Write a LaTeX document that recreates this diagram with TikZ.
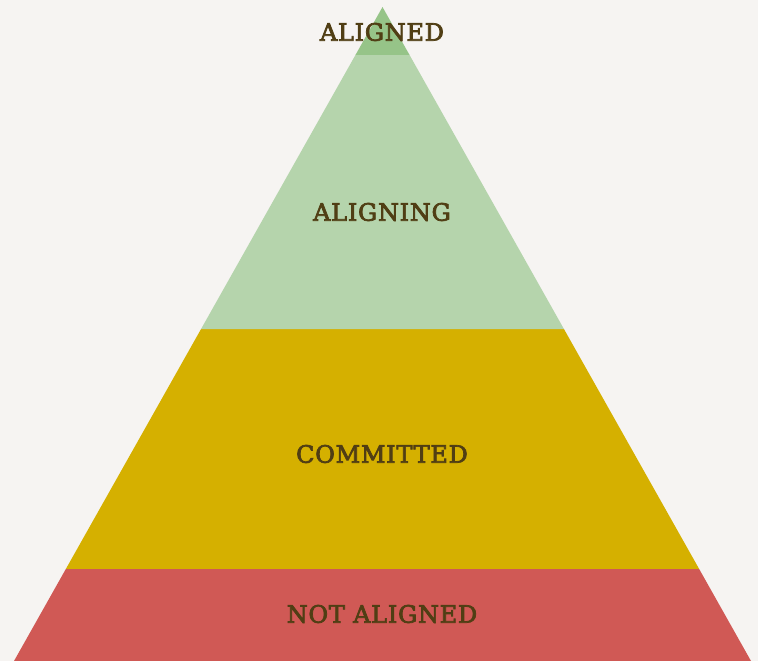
\documentclass[tikz,border=0pt]{standalone}
\usepackage{fontspec}
\setmainfont{DejaVu Serif}
\newfontfamily\pyfont[LetterSpace=3, FakeBold=3]{DejaVu Serif}
\usepackage{tikz}
\usetikzlibrary{calc}
\definecolor{pybg}{RGB}{246,244,242}
\definecolor{pygreen}{RGB}{181,212,172}
\definecolor{pydarkgreen}{RGB}{150,196,136}
\definecolor{pyyellow}{RGB}{213,176,0}
\definecolor{pyred}{RGB}{208,89,85}
\definecolor{pytext}{RGB}{80,62,20}

\begin{document}
\begin{tikzpicture}[x=1pt, y=-1pt,
    level/.style={font=\pyfont\fontsize{24}{28}\selectfont, text=pytext, inner sep=0pt}]
    % background
    \fill[pybg] (0,0) rectangle (758,661);
    \useasboundingbox (0,0) rectangle (758,661);

    % pyramid corners
    \coordinate (apex) at (382.5,7);
    \coordinate (bl) at (14,661);
    \coordinate (br) at (751,661);

    % layers, bottom to top
    \fill[pyred] ($(apex)!0.8593!(bl)$) -- (bl) -- (br) -- ($(apex)!0.8593!(br)$) -- cycle;
    \fill[pyyellow] ($(apex)!0.4924!(bl)$) -- ($(apex)!0.8593!(bl)$) -- ($(apex)!0.8593!(br)$) -- ($(apex)!0.4924!(br)$) -- cycle;
    \fill[pygreen] ($(apex)!0.0734!(bl)$) -- ($(apex)!0.4924!(bl)$) -- ($(apex)!0.4924!(br)$) -- ($(apex)!0.0734!(br)$) -- cycle;
    \fill[pydarkgreen] (apex) -- ($(apex)!0.0734!(bl)$) -- ($(apex)!0.0734!(br)$) -- cycle;

    % labels
    \node[level] (aligned) at (382,32) {ALIGNED};
    \node[level] (aligning) at (382,212) {ALIGNING};
    \node[level] (committed) at (382,454) {COMMITTED};
    \node[level] (notaligned) at (382,614) {NOT ALIGNED};
\end{tikzpicture}
\end{document}
